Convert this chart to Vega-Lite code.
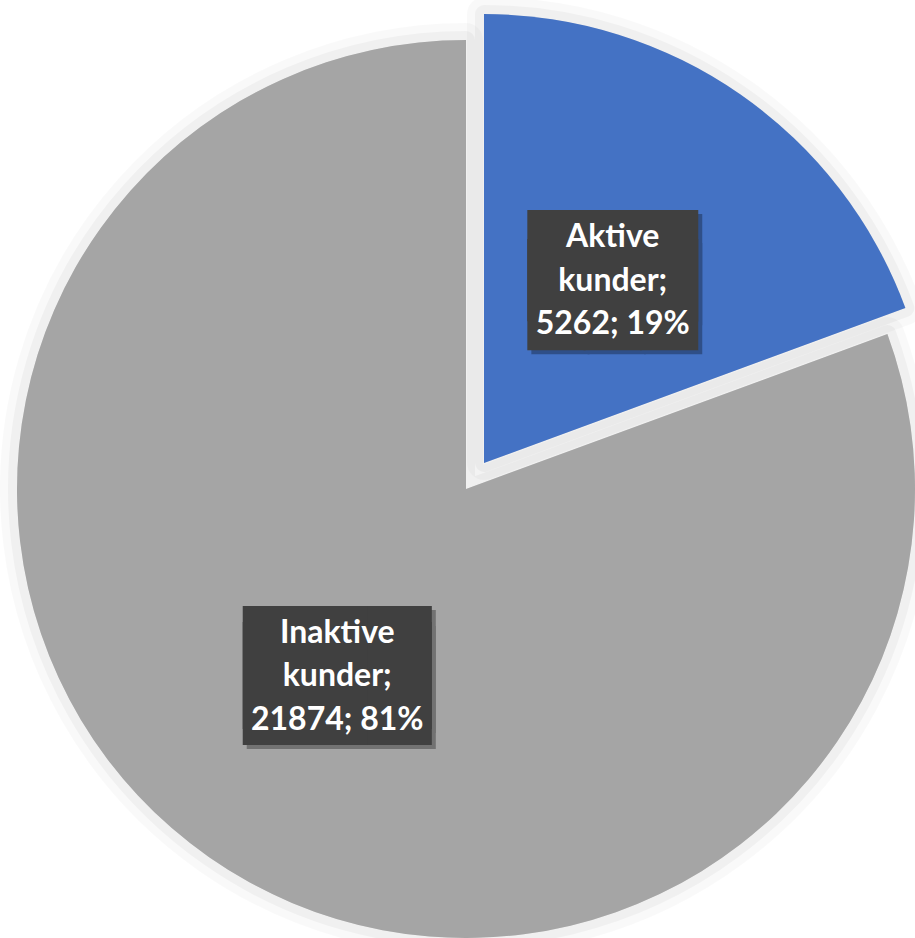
{
  "$schema": "https://vega.github.io/schema/vega-lite/v6.json",
  "width": 898,
  "height": 898,
  "padding": {"left": 17, "top": 40, "right": 0, "bottom": 0},
  "autosize": {"type": "none"},
  "background": "white",
  "config": {"view": {"stroke": null}},
  "data": {
    "values": [
      {"kategori": "Aktive kunder", "antall": 5262},
      {"kategori": "Inaktive kunder", "antall": 21874}
    ]
  },
  "transform": [
    {"joinaggregate": [{"op": "sum", "field": "antall", "as": "total"}]},
    {"calculate": "[split(datum.kategori, ' ')[0], split(datum.kategori, ' ')[1] + ';', datum.antall + '; ' + format(datum.antall / datum.total, '.0%')]", "as": "etikett"}
  ],
  "encoding": {
    "theta": {"field": "antall", "type": "quantitative", "stack": true},
    "order": {"field": "kategori", "sort": "ascending"}
  },
  "layer": [
    {
      "mark": {
        "type": "arc",
        "outerRadius": 449,
        "fill": "#000000",
        "fillOpacity": 0.03,
        "stroke": "#000000",
        "strokeOpacity": 0.025,
        "strokeWidth": 34,
        "strokeJoin": "round",
        "xOffset": {"expr": "datum.kategori == 'Aktive kunder' ? 18 : 0"},
        "yOffset": {"expr": "datum.kategori == 'Aktive kunder' ? -26 : 0"}
      },
      "encoding": {"color": {"value": "#000000"}}
    },
    {
      "mark": {
        "type": "arc",
        "outerRadius": 449,
        "fill": "#000000",
        "fillOpacity": 0.03,
        "stroke": "#000000",
        "strokeOpacity": 0.035,
        "strokeWidth": 18,
        "strokeJoin": "round",
        "xOffset": {"expr": "datum.kategori == 'Aktive kunder' ? 18 : 0"},
        "yOffset": {"expr": "datum.kategori == 'Aktive kunder' ? -26 : 0"}
      },
      "encoding": {"color": {"value": "#000000"}}
    },
    {
      "mark": {
        "type": "arc",
        "outerRadius": 449,
        "xOffset": {"expr": "datum.kategori == 'Aktive kunder' ? 18 : 0"},
        "yOffset": {"expr": "datum.kategori == 'Aktive kunder' ? -26 : 0"}
      },
      "encoding": {
        "color": {
          "field": "kategori",
          "type": "nominal",
          "scale": {"domain": ["Aktive kunder", "Inaktive kunder"], "range": ["#4472C4", "#A5A5A5"]},
          "legend": null
        }
      }
    },
    {
      "mark": {
        "type": "text",
        "radius": 225,
        "text": ["███", "███"],
        "font": "DejaVu Sans Mono",
        "fontSize": {"expr": "datum.kategori == 'Aktive kunder' ? 93.6 : 103.5"},
        "lineHeight": {"expr": "datum.kategori == 'Aktive kunder' ? 29 : 16.4"},
        "align": "center",
        "baseline": "middle",
        "opacity": 0.3,
        "dx": 4,
        "dy": {"expr": "datum.kategori == 'Aktive kunder' ? -4.5 : 2.5"},
        "xOffset": {"expr": "datum.kategori == 'Aktive kunder' ? 18 : 0"},
        "yOffset": {"expr": "datum.kategori == 'Aktive kunder' ? -26 : 0"}
      },
      "encoding": {"color": {"value": "#000000"}}
    },
    {
      "mark": {
        "type": "text",
        "radius": 225,
        "text": ["███", "███"],
        "font": "DejaVu Sans Mono",
        "fontSize": {"expr": "datum.kategori == 'Aktive kunder' ? 93.6 : 103.5"},
        "lineHeight": {"expr": "datum.kategori == 'Aktive kunder' ? 29 : 16.4"},
        "align": "center",
        "baseline": "middle",
        "dy": {"expr": "datum.kategori == 'Aktive kunder' ? -8.5 : -1.5"},
        "xOffset": {"expr": "datum.kategori == 'Aktive kunder' ? 18 : 0"},
        "yOffset": {"expr": "datum.kategori == 'Aktive kunder' ? -26 : 0"}
      },
      "encoding": {"color": {"value": "#404040"}}
    },
    {
      "mark": {
        "type": "text",
        "radius": 225,
        "font": "Lato",
        "fontWeight": "bold",
        "fontSize": 32,
        "lineHeight": 43.5,
        "align": "center",
        "baseline": "middle",
        "dy": -41,
        "xOffset": {"expr": "datum.kategori == 'Aktive kunder' ? 18 : 0"},
        "yOffset": {"expr": "datum.kategori == 'Aktive kunder' ? -26 : 0"}
      },
      "encoding": {
        "text": {"field": "etikett"},
        "color": {"value": "#ffffff"}
      }
    }
  ]
}
